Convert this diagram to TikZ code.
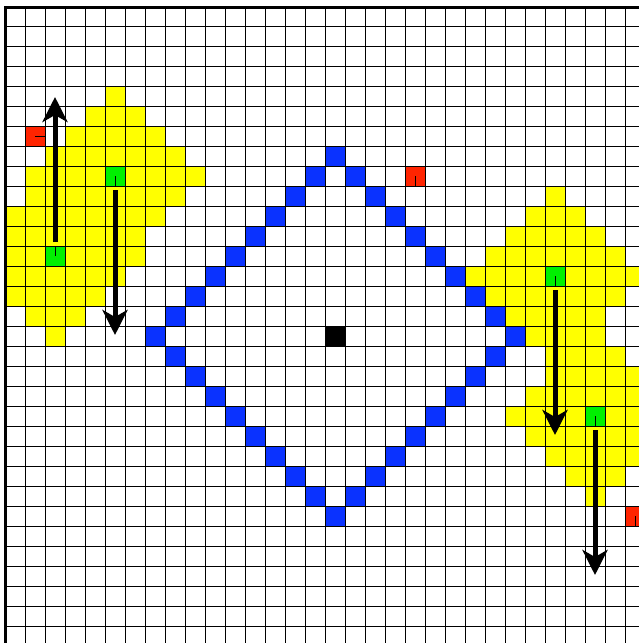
\documentclass[tikz,border=0pt]{standalone}
\usetikzlibrary{arrows.meta}
\definecolor{cyel}{RGB}{255,255,0}
\definecolor{cgrn}{RGB}{0,240,0}
\definecolor{cred}{RGB}{255,36,0}
\definecolor{cblu}{RGB}{10,50,255}
\begin{document}
\begin{tikzpicture}[x=1pt,y=-1pt,
  cellnode/.style={rectangle, minimum size=20pt, inner sep=0pt, outer sep=0pt, draw=none},
  gcell/.style={cellnode, fill=cgrn},
  rcell/.style={cellnode, fill=cred},
  kcell/.style={cellnode, fill=black},
  tickmark/.style={line width=0.8pt, black},
  gridline/.style={line width=1pt, black},
  borderline/.style={line width=2.7pt, black},
  arr/.style={line width=5pt, black, -{Stealth[length=25pt,width=25pt,inset=7pt]}},
]
\useasboundingbox (0,0) rectangle (639,643);
\fill[white] (0,0) rectangle (639,643);
\begin{scope}
\clip (5,6) rectangle (639,643);
% yellow regions: cells within distance 4 of each green cell
\foreach \gc/\gr in {5/8,2/12,27/13,29/20}{
  \foreach \dx in {-4,...,4}{
    \pgfmathtruncatemacro\mymm{4-abs(\dx)}
    \pgfmathtruncatemacro\myylo{-\mymm}
    \foreach \dy in {\myylo,...,\mymm}{
      \fill[cyel] ({5+20*(\gc+\dx)},{6+20*(\gr+\dy)}) rectangle ++(20,20);
    }}}
% blue diamond
\foreach \dx in {-9,...,9}{
  \pgfmathtruncatemacro\mymm{9-abs(\dx)}
  \fill[cblu] ({5+20*(16+\dx)},{6+20*(16+\mymm)}) rectangle ++(20,20);
  \fill[cblu] ({5+20*(16+\dx)},{6+20*(16-\mymm)}) rectangle ++(20,20);
}
% special cells
\node[kcell] (ctr) at (335,336) {};
\node[gcell] (g1) at (115,176) {};
\node[gcell] (g2) at (55,256) {};
\node[gcell] (g3) at (555,276) {};
\node[gcell] (g4) at (595,416) {};
\node[rcell] (r1) at (35,136) {};
\node[rcell] (r2) at (415,176) {};
\node[rcell] (r3) at (635,516) {};
% grid
\foreach \k in {1,...,31}{
  \draw[gridline] ({5+20*\k},6) -- ({5+20*\k},643);
  \draw[gridline] (5,{6+20*\k}) -- (639,{6+20*\k});
}
\end{scope}
\draw[borderline] (5.3,643) -- (5.3,7.5) -- (639,7.5);
% heading ticks
\draw[tickmark] (g1.center) -- (g1.south);
\draw[tickmark] (g2.center) -- (g2.north);
\draw[tickmark] (g3.center) -- (g3.south);
\draw[tickmark] (g4.center) -- (g4.south);
\draw[tickmark] (r1.center) -- (r1.east);
\draw[tickmark] (r2.center) -- (r2.south);
\draw[tickmark] (r3.center) -- (r3.south);
% arrows
\draw[arr] ([yshift=4pt]g2.north) -- ++(0,-145);
\draw[arr] ([yshift=-4pt]g1.south) -- ++(0,145);
\draw[arr] ([yshift=-4pt]g3.south) -- ++(0,145);
\draw[arr] ([yshift=-4pt]g4.south) -- ++(0,145);
\end{tikzpicture}
\end{document}
